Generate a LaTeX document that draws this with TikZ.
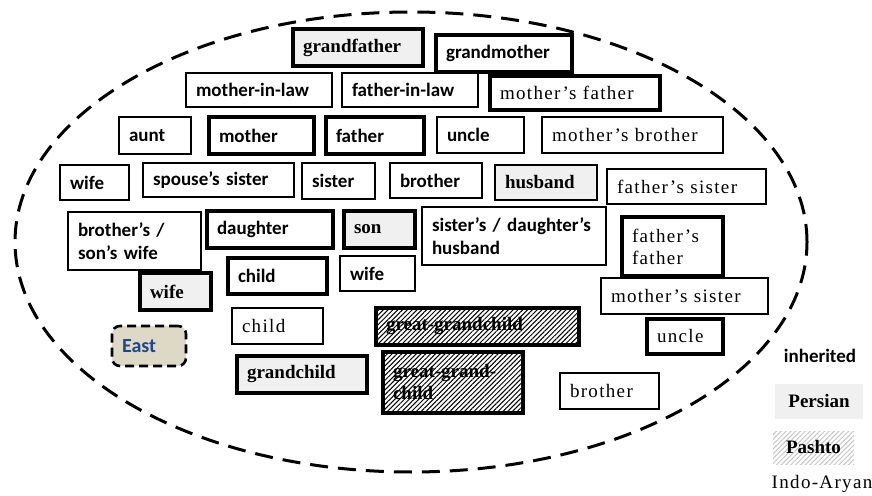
\documentclass[tikz,border=0pt]{standalone}
\usepackage{fontspec}
\setmainfont{Liberation Serif}
\setsansfont{Carlito}
\newfontfamily\spacedserif[LetterSpace=7]{Liberation Serif}
\usepackage{tikz}
\usetikzlibrary{patterns.meta}
\definecolor{persgray}{RGB}{240,240,240}
\definecolor{eastfill}{RGB}{221,217,196}
\definecolor{eastblue}{RGB}{30,70,140}
\hyphenpenalty=10000
\exhyphenpenalty=10000

\tikzset{
    box/.style={draw, align=left, inner xsep=5pt, inner ysep=0pt,
        font=\sffamily\bfseries\fontsize{9.5}{11.5}\selectfont},
    lite/.style={line width=0.6pt},
    mid/.style={line width=1pt},
    heavy/.style={line width=1.6pt},
    pers/.style={fill=persgray, font=\rmfamily\bfseries\fontsize{9.5}{11}\selectfont},
    pash/.style={pattern={Lines[angle=45,distance=1.7pt,line width=0.5pt]},
        font=\rmfamily\bfseries\fontsize{9.5}{11}\selectfont},
    indo/.style={font=\spacedserif\fontsize{9.5}{11}\selectfont},
    eastbox/.style={draw, rounded corners=4pt, fill=eastfill, text=eastblue,
        line width=1.3pt, dash pattern=on 4.5pt off 2.5pt, inner xsep=5pt,
        inner ysep=0pt, align=left, font=\sffamily\bfseries\fontsize{10}{12}\selectfont},
}

\begin{document}
\begin{tikzpicture}[x=0.5pt, y=-0.5pt]
    \useasboundingbox (0,0) rectangle (872,496);

    % the dashed ring
    \draw[line width=1.5pt, dash pattern=on 9pt off 5pt] (411,242) ellipse [x radius=198pt, y radius=115pt];

    % grandparents, in-laws
    \node[box, heavy, pers, text width=55pt, minimum height=18.5pt] (gfather) at (358,47.5) {grandfather};
    \node[box, heavy, text width=58pt, minimum height=18.5pt] (gmother) at (504,53.5) {grandmother};
    \node[box, lite, text width=63pt, minimum height=17pt] (minlaw) at (259,90) {mother-in-law};
    \node[box, lite, text width=58pt, minimum height=17pt] (finlaw) at (410,90) {father-in-law};
    \node[box, heavy, indo, text width=75pt, minimum height=17pt] (mfather) at (575,93) {mother’s father};

    % parents row
    \node[box, mid, text width=26pt, minimum height=18.5pt] (aunt) at (155,135.5) {aunt};
    \node[box, heavy, text width=42.5pt, minimum height=18.5pt] (mother) at (261.5,135.5) {mother};
    \node[box, heavy, text width=39pt, minimum height=18.5pt] (father) at (375,135.5) {father};
    \node[box, mid, text width=33.5pt, minimum height=18pt] (uncle) at (480.5,135) {uncle};
    \node[box, mid, indo, text width=80.5pt, minimum height=18pt] (mbrother) at (632.5,135) {mother’s brother};

    % siblings, spouses
    \node[box, mid, text width=24.5pt, minimum height=17.5pt] (wifeA) at (94.5,182.5) {wife};
    \node[box, lite, text width=65.5pt, minimum height=17pt] (ssister) at (218.5,180) {spouse’s sister};
    \node[box, mid, text width=26.5pt, minimum height=18pt] (sister) at (338.5,181) {sister};
    \node[box, mid, text width=36pt, minimum height=17.5pt] (brotherA) at (436,180.5) {brother};
    \node[box, lite, pers, text width=41pt, minimum height=17.5pt] (husband) at (546,182.5) {husband};
    \node[box, mid, indo, text width=69.5pt, minimum height=17.5pt] (fsister) at (686.5,186.5) {father’s sister};

    % children, their spouses
    \node[box, lite, text width=56.5pt, minimum height=29pt] (bswife) at (134.5,241) {brother’s /\\son’s wife};
    \node[box, heavy, text width=53pt, minimum height=18.5pt] (daughter) at (270,229.5) {daughter};
    \node[box, heavy, pers, text width=25.5pt, minimum height=18.5pt] (son) at (379.5,229.5) {son};
    \node[box, lite, text width=82pt, minimum height=29pt] (sdhusband) at (514,236) {sister’s / daughter’s\\husband};
    \node[box, heavy, indo, text width=40.5pt, minimum height=29.5pt] (ffather) at (672.5,246.5) {father’s\\father};
    \node[box, heavy, text width=39.5pt, minimum height=18pt] (childA) at (277.5,276) {child};
    \node[box, lite, text width=27.5pt, minimum height=17.5pt] (wifeB) at (377.5,273.5) {wife};
    \node[box, heavy, pers, text width=25.5pt, minimum height=18.5pt] (wifeC) at (175.5,291.5) {wife};
    \node[box, mid, indo, text width=73.5pt, minimum height=18pt] (msister) at (684.5,296) {mother’s sister};

    % grandchildren
    \node[box, line width=1.3pt, indo, text width=35.5pt, minimum height=18pt] (childB) at (277.5,326) {child};
    \node[eastbox, text width=27pt, minimum height=20pt] (east) at (149,346) {East};
    \node[box, heavy, pers, text width=55pt, minimum height=18.5pt] (gchild) at (302,374.5) {grandchild};
    \node[box, heavy, pash, text width=91.5pt, minimum height=18.5pt] (ggchildA) at (477.5,326.5) {great-grandchild};
    \node[box, heavy, pash, text width=60pt, minimum height=30.5pt] (ggchildB) at (453,382.5) {great-grand-\\child};
    \node[box, heavy, indo, text width=28pt, minimum height=17.5pt] (uncleB) at (685,336.5) {uncle};
    \node[box, lite, indo, text width=39.5pt, minimum height=18pt] (brotherB) at (609.5,391) {brother};

    % legend
    \node[font=\sffamily\bfseries\fontsize{9.5}{11}\selectfont] (inherit) at (820,356) {inherited};
    \node[pers, minimum width=44pt, minimum height=17.5pt] (persian) at (819,401.5) {Persian};
    \node[pash, pattern color=gray!45, minimum width=40.5pt, minimum height=16.5pt] (pashto) at (813.5,447.5) {Pashto};
    \node[indo] (indoaryan) at (822,484) {Indo-Aryan};
\end{tikzpicture}
\end{document}
